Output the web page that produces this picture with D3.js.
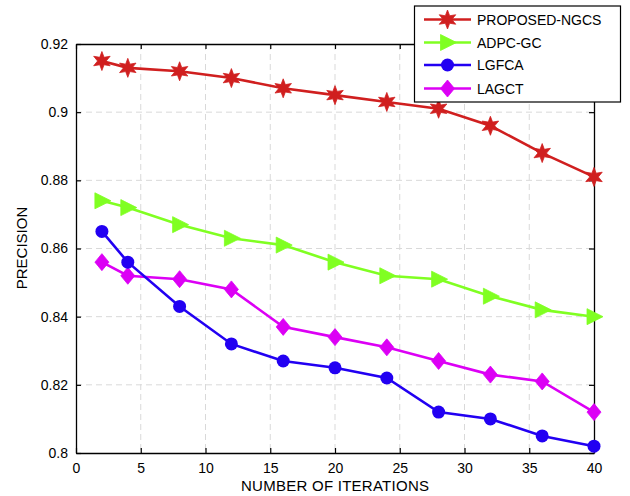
<!DOCTYPE html>
<html><head><meta charset="utf-8">
<script src="https://cdn.jsdelivr.net/npm/d3@7"></script>
<style>body{margin:0;background:#fff}svg{display:block}text{font-family:"Liberation Sans",Arial,sans-serif;fill:#000}</style>
</head><body>
<svg id="c" width="630" height="496"></svg>
<script>
const iterations = [2, 4, 8, 12, 16, 20, 24, 28, 32, 36, 40];
const proposedNGCS = [0.915, 0.913, 0.912, 0.910, 0.907, 0.905, 0.903, 0.901, 0.896, 0.888, 0.881];
const adpcGC = [0.874, 0.872, 0.867, 0.863, 0.861, 0.856, 0.852, 0.851, 0.846, 0.842, 0.840];
const lgfca = [0.865, 0.856, 0.843, 0.832, 0.827, 0.825, 0.822, 0.812, 0.810, 0.805, 0.802];
const lagct = [0.856, 0.852, 0.851, 0.848, 0.837, 0.834, 0.831, 0.827, 0.823, 0.821, 0.812];
const seriesNames = ["PROPOSED-NGCS", "ADPC-GC", "LGFCA", "LAGCT"];
const xTicks = [0, 5, 10, 15, 20, 25, 30, 35, 40];
const yTicks = [0.8, 0.82, 0.84, 0.86, 0.88, 0.9, 0.92];
const yTickLabels = ["0.8", "0.82", "0.84", "0.86", "0.88", "0.9", "0.92"];

const L = 76, R = 594, T = 44, B = 453;
const svg = d3.select("#c");
const x = d3.scaleLinear().domain([0, 40]).range([L, R]);
const y = d3.scaleLinear().domain([0.8, 0.92]).range([B, T]);

// grid
const g = svg.append("g");
g.selectAll(".vg").data(xTicks.slice(1, -1)).enter().append("line")
  .attr("x1", d => x(d)).attr("x2", d => x(d)).attr("y1", T).attr("y2", B)
  .attr("stroke", "#d9d9d9").attr("stroke-width", 1).attr("stroke-dasharray", "6,4");
g.selectAll(".hg").data(yTicks.slice(1, -1)).enter().append("line")
  .attr("y1", d => y(d)).attr("y2", d => y(d)).attr("x1", L).attr("x2", R)
  .attr("stroke", "#d9d9d9").attr("stroke-width", 1).attr("stroke-dasharray", "6,4");

// axes
const fmt = d => yTickLabels[yTicks.indexOf(d)];
const ax = [
  svg.append("g").attr("transform", `translate(0,${B})`).call(d3.axisBottom(x).tickValues(xTicks).tickSizeInner(-5).tickSizeOuter(0).tickPadding(10)),
  svg.append("g").attr("transform", `translate(0,${T})`).call(d3.axisTop(x).tickValues(xTicks).tickSizeInner(-5).tickSizeOuter(0).tickFormat("")),
  svg.append("g").attr("transform", `translate(${L},0)`).call(d3.axisLeft(y).tickValues(yTicks).tickFormat(fmt).tickSizeInner(-5).tickSizeOuter(0).tickPadding(8)),
  svg.append("g").attr("transform", `translate(${R},0)`).call(d3.axisRight(y).tickValues(yTicks).tickFormat("").tickSizeInner(-5).tickSizeOuter(0))
];
ax.forEach(a => {
  a.select(".domain").attr("stroke", "#000").attr("stroke-width", 1.3);
  a.selectAll(".tick line").attr("stroke", "#000").attr("stroke-width", 1.2);
  a.selectAll("text").attr("font-size", 14).attr("font-family", "Liberation Sans, Arial, sans-serif").attr("fill", "#000");
});

// series
const colors = ["#d01f1f", "#80ff22", "#2200f2", "#dc00f5"];
const data = [proposedNGCS, adpcGC, lgfca, lagct];
function star(r1, r2) {
  const pts = [];
  for (let i = 0; i < 12; i++) {
    const a = -Math.PI / 2 + i * Math.PI / 6;
    const r = i % 2 === 0 ? r1 : r2;
    pts.push([r * Math.cos(a), r * Math.sin(a)]);
  }
  return "M" + pts.map(p => p.join(",")).join("L") + "Z";
}
const shapes = [
  star(9.5, 4.3),
  "M-7,-8L9,0L-7,8Z",
  null,
  "M0,-8.5L7,0L0,8.5L-7,0Z"
];
const line = d3.line().x(d => x(d[0])).y(d => y(d[1]));
function marker(sel, i, cx, cy) {
  if (i === 2) sel.append("circle").attr("cx", cx).attr("cy", cy).attr("r", 6.5).attr("fill", colors[i]);
  else sel.append("path").attr("d", shapes[i]).attr("transform", `translate(${cx},${cy})`).attr("fill", colors[i]).attr("stroke", colors[i]).attr("stroke-width", 0.8).attr("stroke-linejoin", "miter");
}
const order = [3, 2, 1, 0];
order.forEach(i => {
  const pts = iterations.map((v, k) => [v, data[i][k]]);
  const sg = svg.append("g");
  sg.append("path").datum(pts).attr("d", line).attr("fill", "none").attr("stroke", colors[i]).attr("stroke-width", 2.6);
  pts.forEach(p => marker(sg, i, x(p[0]), y(p[1])));
});

// axis labels
svg.append("text").attr("x", (L + R) / 2).attr("y", 491).attr("text-anchor", "middle").attr("font-size", 15).attr("textLength", 188).text("NUMBER OF ITERATIONS");
svg.append("text").attr("transform", "translate(27,248) rotate(-90)").attr("text-anchor", "middle").attr("font-size", 15).text("PRECISION");

// legend
const lg = svg.append("g");
lg.append("rect").attr("x", 414.5).attr("y", 6).attr("width", 206).attr("height", 96).attr("fill", "#fff").attr("stroke", "#000").attr("stroke-width", 1.2);
seriesNames.forEach((n, i) => {
  const yy = [19.5, 42.5, 65, 88.5][i];
  lg.append("line").attr("x1", 424).attr("x2", 471).attr("y1", yy).attr("y2", yy).attr("stroke", colors[i]).attr("stroke-width", 2.6);
  marker(lg, i, 447.5, yy);
  lg.append("text").attr("x", 477).attr("y", yy + 5).attr("font-size", 14).text(n);
});
</script>
</body></html>
